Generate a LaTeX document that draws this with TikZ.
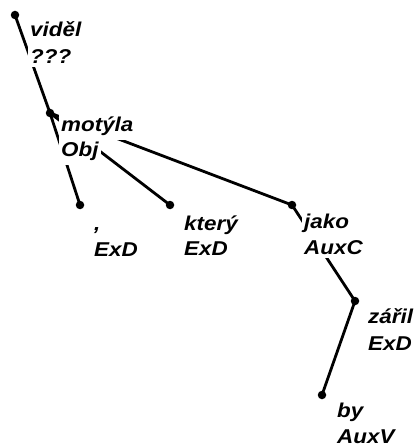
\documentclass[tikz,border=0pt]{standalone}
\usepackage{fontspec}
\newfontfamily\labfont[FakeStretch=1.12]{Liberation Sans}
\begin{document}
\begin{tikzpicture}[x=1pt,y=-1pt,
  dot/.style={circle,fill=black,inner sep=0pt,minimum size=8.5pt},
  edge/.style={line width=2.8pt,line cap=round},
  lab/.style={anchor=base west,fill=white,inner xsep=2pt,inner ysep=3.5pt,font=\labfont\fontsize{20}{24}\selectfont\bfseries\itshape},
  labdeep/.style={lab,text depth=6pt}]
\fill[white] (0,0) rectangle (417,446);
\useasboundingbox (0,0) rectangle (417,446);
\clip (0,0) rectangle (417,446);
% dots
\node[dot] (v) at (15,15) {};
\node[dot] (m) at (50,113) {};
\node[dot] (c) at (80,205) {};
\node[dot] (k) at (170,205) {};
\node[dot] (j) at (292,205) {};
\node[dot] (z) at (355,301) {};
\node[dot] (b) at (322,395) {};
% edges
\draw[edge] (v.center) -- (m.center);
\draw[edge] (m.center) -- (c.center);
\draw[edge] (m.center) -- (k.center);
\draw[edge] (m.center) -- (j.center);
\draw[edge] (j.center) -- (z.center);
\draw[edge] (z.center) -- (b.center);
% labels
\node[labdeep] (v1) at (28,37) {viděl};
\node[lab] (v2) at (28,64) {???};
\node[lab] (m1) at (59,132) {motýla};
\node[lab] (m2) at (59,157) {Obj};
\node[labdeep] (c1) at (92,230) {,};
\node[lab] (c2) at (92,256) {ExD};
\node[labdeep] (k1) at (182,230) {který};
\node[lab] (k2) at (182,255) {ExD};
\node[labdeep] (j1) at (302,228) {jako};
\node[lab] (j2) at (302,254) {AuxC};
\node[labdeep] (z1) at (366,323) {zářil};
\node[lab] (z2) at (366,350) {ExD};
\node[labdeep] (b1) at (335,417) {by};
\node[lab] (b2) at (335,443) {AuxV};
\end{tikzpicture}
\end{document}
